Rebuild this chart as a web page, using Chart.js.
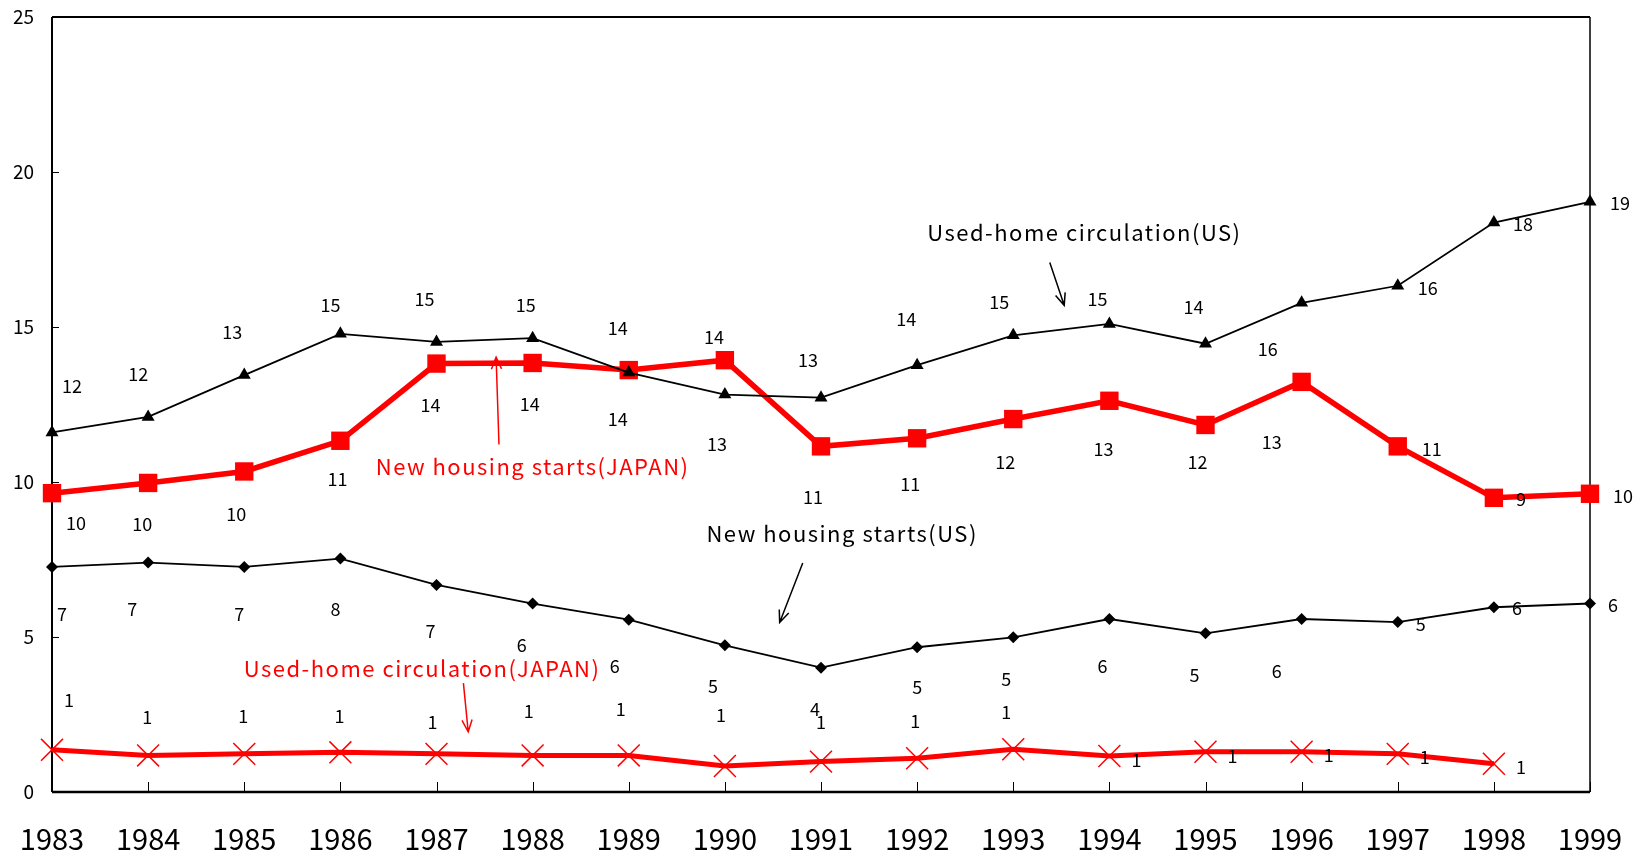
<!DOCTYPE html>
<html>
<head>
<meta charset="utf-8">
<title>Housing starts and used-home circulation, Japan and US</title>
<script src="https://cdn.jsdelivr.net/npm/chart.js@4.4.1/dist/chart.umd.min.js"></script>
<style>
  html, body { margin: 0; padding: 0; background: #fff; }
  #wrap { width: 1647px; height: 852px; }
</style>
</head>
<body>
<div id="wrap"><canvas id="chart"></canvas></div>
<script>
const years = ['1983', '1984', '1985', '1986', '1987', '1988', '1989', '1990', '1991',
  '1992', '1993', '1994', '1995', '1996', '1997', '1998', '1999']
const yTicks = [0, 5, 10, 15, 20, 25]

const usedHomeUS = [11.6, 12.1, 13.45, 14.78, 14.52, 14.64, 13.53, 12.82, 12.72, 13.77, 14.73, 15.1, 14.46, 15.78, 16.33, 18.37, 19.04]
const newHousingJapan = [9.64, 9.97, 10.34, 11.33, 13.82, 13.84, 13.61, 13.93, 11.15, 11.41, 12.03, 12.62, 11.84, 13.23, 11.15, 9.49, 9.62]
const newHousingUS = [7.26, 7.4, 7.26, 7.53, 6.68, 6.08, 5.56, 4.73, 4.01, 4.67, 4.99, 5.58, 5.12, 5.58, 5.48, 5.96, 6.08]
const usedHomeJapan = [1.36, 1.18, 1.23, 1.28, 1.23, 1.18, 1.18, 0.84, 0.98, 1.09, 1.38, 1.16, 1.3, 1.3, 1.23, 0.91, null]

// where each data label sits relative to its point (px), like the hand-moved excel labels
const usedHomeUSLabelPos = [[20, -46], [-10, -43], [-12, -43], [-10, -29], [-12, -43], [-7, -33], [-11, -44], [-8, 50],
  [-13, -38], [-11, -46], [-14, -33], [-12, -25], [-12, -37], [-34, 46], [30, 2], [29, 2], [30, 1]]
const newHousingJapanLabelPos = [[24, 30], [-6, 41], [-8, 43], [-3, 38], [-6, 42], [-3, 41], [-11, 49], [-11, -23],
  [-8, 51], [-7, 46], [-8, 43], [-6, 48], [-8, 37], [-30, 60], [34, 3], [27, 1], [33, 2]]
const newHousingUSLabelPos = [[10, 47], [-16, 47], [-5, 47], [-5, 51], [-6, 46], [-11, 42], [-14, 47], [-12, 41],
  [-6, 41], [0, 40], [-7, 42], [-7, 47], [-11, 42], [-25, 52], [23, 2], [23, 1], [23, 2]]
const usedHomeJapanLabelPos = [[17, -50], [-1, -38], [-1, -38], [-1, -36], [-4, -32], [-4, -44], [-8, -46], [-4, -51],
  [0, -39], [-2, -37], [-7, -37], [27, 4], [27, 4], [27, 3], [27, 3], [27, 3], [0, 0]]

// call-out texts with their arrows, in axis units (x = year index, y = value)
const notes = [
  {text: 'Used-home circulation(US)', color: '#000', at: [10.74, 18.05], from: [10.38, 17.08], to: [10.53, 15.7]},
  {text: 'New housing starts(JAPAN)', color: '#ff0000', at: [5.0, 10.5], from: [4.65, 11.21], to: [4.62, 14.03]},
  {text: 'New housing starts(US)', color: '#000', at: [8.22, 8.32], from: [7.81, 7.39], to: [7.57, 5.47]},
  {text: 'Used-home circulation(JAPAN)', color: '#ff0000', at: [3.85, 3.99], from: [4.28, 3.51], to: [4.33, 1.94]},
]

const FONT = '"Noto Sans CJK JP", "Noto Sans", sans-serif'

const framePlugin = {
  id: 'frame',
  beforeDatasetsDraw(chart) {
    const {ctx, chartArea: a, scales: {x, y}} = chart
    ctx.save()
    ctx.strokeStyle = '#000'
    ctx.lineWidth = 1
    ctx.beginPath()
    yTicks.forEach(v => {
      const py = Math.round(y.getPixelForValue(v)) + 0.5
      ctx.moveTo(a.left, py)
      ctx.lineTo(a.left + 7, py)
    })
    years.forEach((_, i) => {
      const px = Math.round(x.getPixelForValue(i)) + 0.5
      ctx.moveTo(px, a.bottom)
      ctx.lineTo(px, a.bottom - 10)
    })
    ctx.stroke()

    ctx.lineWidth = 2
    ctx.beginPath()
    ctx.moveTo(a.left, a.top)
    ctx.lineTo(a.right, a.top)
    ctx.moveTo(a.left, a.top)
    ctx.lineTo(a.left, a.bottom)
    ctx.stroke()
    ctx.lineWidth = 1.5
    ctx.beginPath()
    ctx.moveTo(a.right, a.top)
    ctx.lineTo(a.right, a.bottom)
    ctx.stroke()
    ctx.lineWidth = 2.5
    ctx.beginPath()
    ctx.moveTo(a.left, a.bottom)
    ctx.lineTo(a.right, a.bottom)
    ctx.stroke()
    ctx.restore()
  }
}

const labelPlugin = {
  id: 'pointLabels',
  afterDatasetsDraw(chart) {
    const ctx = chart.ctx
    ctx.save()
    ctx.font = '18px ' + FONT
    ctx.fillStyle = '#000'
    ctx.textAlign = 'center'
    ctx.textBaseline = 'middle'
    chart.data.datasets.forEach((ds, di) => {
      const meta = chart.getDatasetMeta(di)
      meta.data.forEach((el, i) => {
        const v = ds.data[i]
        if (v === null) return
        const [dx, dy] = ds.labelPos[i]
        ctx.fillText(String(Math.round(v)), el.x + dx, el.y + dy)
      })
    })
    ctx.restore()
  }
}

const notePlugin = {
  id: 'notes',
  afterDatasetsDraw(chart) {
    const {ctx, scales: {x, y}} = chart
    ctx.save()
    ctx.font = '22px ' + FONT
    ctx.letterSpacing = '1.5px'
    ctx.textAlign = 'center'
    ctx.textBaseline = 'middle'
    notes.forEach(n => {
      ctx.fillStyle = n.color
      ctx.strokeStyle = n.color
      ctx.fillText(n.text, x.getPixelForValue(n.at[0]), y.getPixelForValue(n.at[1]))
      const x1 = x.getPixelForValue(n.from[0])
      const y1 = y.getPixelForValue(n.from[1])
      const x2 = x.getPixelForValue(n.to[0])
      const y2 = y.getPixelForValue(n.to[1])
      const ang = Math.atan2(y2 - y1, x2 - x1)
      ctx.lineWidth = 1.5
      ctx.beginPath()
      ctx.moveTo(x1, y1)
      ctx.lineTo(x2, y2)
      ctx.moveTo(x2 - 13 * Math.cos(ang - 0.4), y2 - 13 * Math.sin(ang - 0.4))
      ctx.lineTo(x2, y2)
      ctx.lineTo(x2 - 13 * Math.cos(ang + 0.4), y2 - 13 * Math.sin(ang + 0.4))
      ctx.stroke()
    })
    ctx.restore()
  }
}

new Chart(document.getElementById('chart').getContext('2d'), {
  type: 'line',
  data: {
    labels: years,
    datasets: [
      {
        label: 'Used-home circulation(US)',
        data: usedHomeUS,
        labelPos: usedHomeUSLabelPos,
        borderColor: '#000',
        borderWidth: 1.8,
        pointStyle: 'triangle',
        pointRadius: 7.5,
        pointBackgroundColor: '#000',
        pointBorderColor: '#000',
        pointBorderWidth: 0,
      },
      {
        label: 'New housing starts(JAPAN)',
        data: newHousingJapan,
        labelPos: newHousingJapanLabelPos,
        borderColor: '#ff0000',
        borderWidth: 5.5,
        pointStyle: 'rect',
        pointRadius: 13,
        pointBackgroundColor: '#ff0000',
        pointBorderColor: '#ff0000',
        pointBorderWidth: 0,
      },
      {
        label: 'New housing starts(US)',
        data: newHousingUS,
        labelPos: newHousingUSLabelPos,
        borderColor: '#000',
        borderWidth: 1.8,
        pointStyle: 'rectRot',
        pointRadius: 6,
        pointBackgroundColor: '#000',
        pointBorderColor: '#000',
        pointBorderWidth: 0,
      },
      {
        label: 'Used-home circulation(JAPAN)',
        data: usedHomeJapan,
        labelPos: usedHomeJapanLabelPos,
        borderColor: '#ff0000',
        borderWidth: 5,
        pointStyle: 'crossRot',
        pointRadius: 15.5,
        pointBorderColor: '#ff0000',
        pointBorderWidth: 1.5,
      },
    ],
  },
  options: {
    responsive: true,
    maintainAspectRatio: false,
    animation: false,
    events: [],
    layout: {padding: {top: 13, right: 57, left: 0, bottom: 0}},
    plugins: {
      legend: {display: false},
      tooltip: {enabled: false},
    },
    scales: {
      x: {
        offset: false,
        grid: {display: false, drawTicks: false},
        border: {display: false},
        ticks: {
          autoSkip: false,
          maxRotation: 0,
          padding: 30,
          color: '#000',
          font: {family: FONT, size: 29},
        },
        afterFit: s => {
          s.height = 60
          s.paddingLeft = 0
          s.paddingRight = 0
        },
      },
      y: {
        min: 0,
        max: 25,
        grid: {display: false, drawTicks: false},
        border: {display: false},
        afterBuildTicks: s => { s.ticks = yTicks.map(v => ({value: v})) },
        ticks: {
          padding: 18,
          color: '#000',
          font: {family: FONT, size: 19},
        },
        afterFit: s => {
          s.width = 52
          s.paddingTop = 0
          s.paddingBottom = 0
        },
      },
    },
  },
  plugins: [framePlugin, labelPlugin, notePlugin],
})
</script>
</body>
</html>
